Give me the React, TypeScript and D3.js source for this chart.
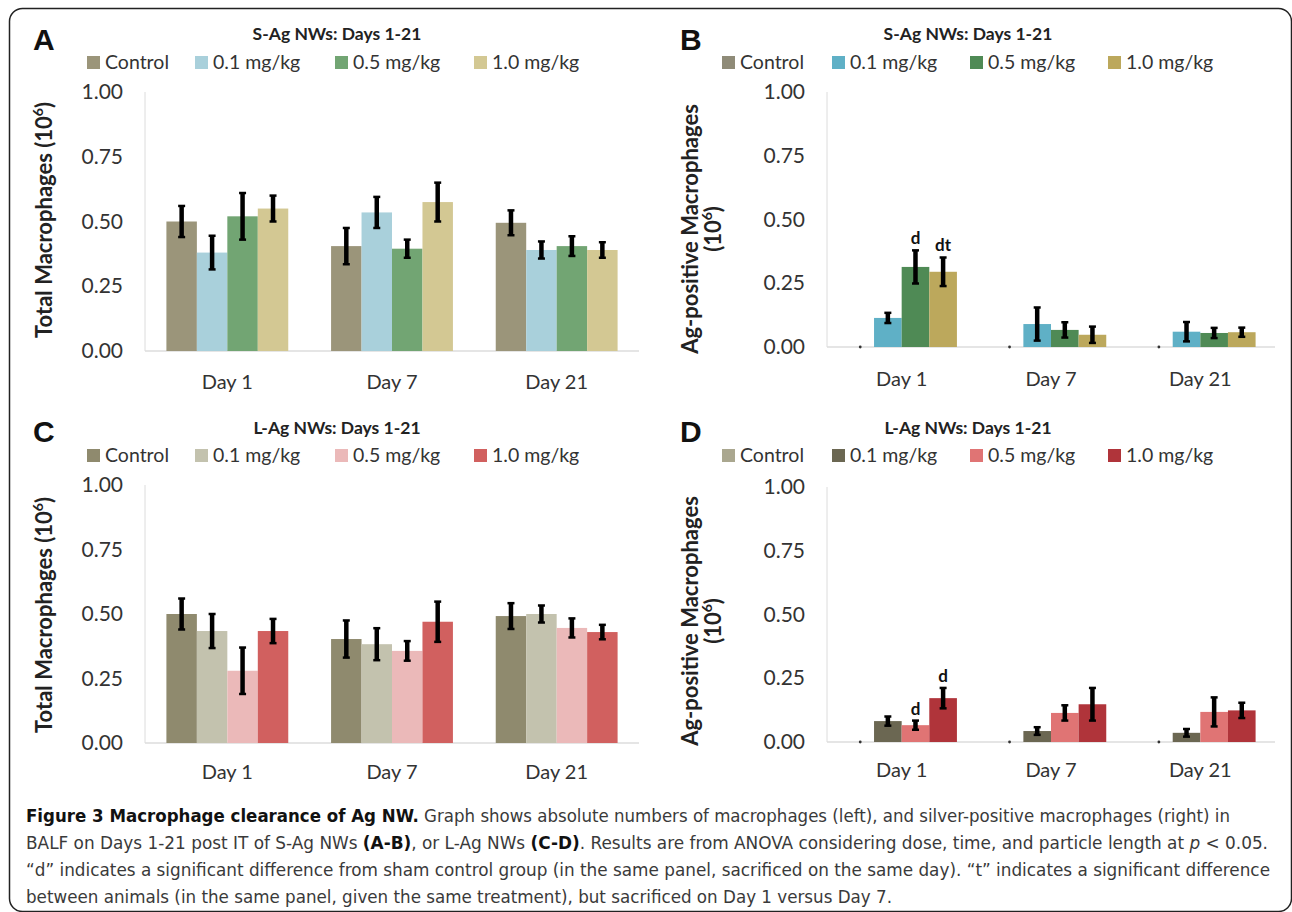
import React from "react";
import * as d3 from "d3";

// categories
const days = ["Day 1", "Day 7", "Day 21"];
const doses = ["Control", "0.1 mg/kg", "0.5 mg/kg", "1.0 mg/kg"];
const yTicks = [0, 0.25, 0.5, 0.75, 1.0];

// means (rows = dose, cols = day) and SE
const meanA = [
  [0.5, 0.405, 0.495],
  [0.38, 0.535, 0.39],
  [0.52, 0.395, 0.405],
  [0.55, 0.575, 0.39],
];
const errA = [
  [0.06, 0.07, 0.048],
  [0.065, 0.06, 0.033],
  [0.09, 0.035, 0.038],
  [0.05, 0.075, 0.03],
];
const meanB = [
  [0, 0, 0],
  [0.114, 0.09, 0.06],
  [0.314, 0.067, 0.055],
  [0.295, 0.048, 0.058],
];
const errB = [
  [0, 0, 0],
  [0.02, 0.065, 0.038],
  [0.065, 0.03, 0.02],
  [0.056, 0.032, 0.018],
];
const meanC = [
  [0.5, 0.403, 0.492],
  [0.434, 0.383, 0.5],
  [0.28, 0.357, 0.446],
  [0.434, 0.47, 0.43],
];
const errC = [
  [0.06, 0.072, 0.05],
  [0.066, 0.062, 0.033],
  [0.09, 0.038, 0.037],
  [0.047, 0.078, 0.028],
];
const meanD = [
  [0, 0, 0],
  [0.082, 0.043, 0.036],
  [0.066, 0.114, 0.118],
  [0.172, 0.148, 0.124],
];
const errD = [
  [0, 0, 0],
  [0.018, 0.015, 0.015],
  [0.018, 0.03, 0.057],
  [0.04, 0.064, 0.03],
];
const notesB = [
  { day: 0, dose: 2, label: "d" },
  { day: 0, dose: 3, label: "dt" },
];
const notesD = [
  { day: 0, dose: 2, label: "d" },
  { day: 0, dose: 3, label: "d" },
];

const colorsA = ["#9b957a", "#a9d0db", "#72a573", "#d3c893"];
const colorsB = ["#8f8b78", "#5fb0c6", "#4f8a55", "#bca85c"];
const colorsC = ["#8f8a6e", "#c3c2ae", "#ebb9b9", "#d1605f"];
const colorsD = ["#aaa78f", "#6b6752", "#e07474", "#b0343a"];

const captionLines = [
  [
    { t: "Figure 3 Macrophage clearance of Ag NW.", b: true },
    { t: " Graph shows absolute numbers of macrophages (left), and silver-positive macrophages (right) in" },
  ],
  [
    { t: "BALF on Days 1-21 post IT of S-Ag NWs " },
    { t: "(A-B)", b: true },
    { t: ", or L-Ag NWs " },
    { t: "(C-D)", b: true },
    { t: ". Results are from ANOVA considering dose, time, and particle length at " },
    { t: "p", i: true },
    { t: " < 0.05." },
  ],
  [
    { t: "\u201Cd\u201D indicates a significant difference from sham control group (in the same panel, sacrificed on the same day). \u201Ct\u201D indicates a significant difference" },
  ],
  [{ t: "between animals (in the same panel, given the same treatment), but sacrificed on Day 1 versus Day 7." }],
];

const FONT = "Lato, 'Open Sans', sans-serif";

const panels = [
  {
    letter: "A", title: "S-Ag NWs: Days 1-21", ylab: ["Total Macrophages (10", ")"], mean: meanA, err: errA, colors: colorsA, notes: [],
    left: 145, right: 639, top: 92, bottom: 351, letterX: 33, letterY: 50, titleX: 337, titleY: 40, legendY: 62,
    legendX: [87, 195, 335, 474], ylabX: 44, ylabY: 220, dayY: 389, twoLine: false, zeroDot: false,
  },
  {
    letter: "B", title: "S-Ag NWs: Days 1-21", ylab: ["Ag-positive Macrophages", "(10", ")"], mean: meanB, err: errB, colors: colorsB, notes: notesB,
    left: 827, right: 1275, top: 92, bottom: 347, letterX: 680, letterY: 50, titleX: 968, titleY: 40, legendY: 62,
    legendX: [722, 832, 970, 1108], ylabX: 690, ylabY: 229, dayY: 386, twoLine: true, zeroDot: true,
  },
  {
    letter: "C", title: "L-Ag NWs: Days 1-21", ylab: ["Total Macrophages (10", ")"], mean: meanC, err: errC, colors: colorsC, notes: [],
    left: 145, right: 639, top: 485, bottom: 743, letterX: 33, letterY: 442, titleX: 337, titleY: 434, legendY: 455,
    legendX: [87, 195, 335, 474], ylabX: 44, ylabY: 615, dayY: 779, twoLine: false, zeroDot: false,
  },
  {
    letter: "D", title: "L-Ag NWs: Days 1-21", ylab: ["Ag-positive Macrophages", "(10", ")"], mean: meanD, err: errD, colors: colorsD, notes: notesD,
    left: 827, right: 1275, top: 487, bottom: 742, letterX: 680, letterY: 442, titleX: 968, titleY: 434, legendY: 455,
    legendX: [722, 832, 970, 1108], ylabX: 690, ylabY: 621, dayY: 777, twoLine: true, zeroDot: true,
  },
];

function Panel({ p }: { p: any }) {
  const x0 = d3.scaleBand().domain(days).range([p.left, p.right]).paddingInner(0.26).paddingOuter(0.13);
  const x1 = d3.scaleBand().domain(doses).range([0, x0.bandwidth()]);
  const y = d3.scaleLinear().domain([0, 1]).range([p.bottom, p.top]);
  const fmt = d3.format(".2f");

  return (
    <g fontFamily={FONT}>
      <text x={p.letterX} y={p.letterY} fontSize={30} fontWeight="bold" fontFamily="'Liberation Sans', Arial, sans-serif" fill="#111">
        {p.letter}
      </text>
      <text x={p.titleX} y={p.titleY} fontSize={17.5} fontWeight="bold" textAnchor="middle" fill="#222">
        {p.title}
      </text>
      {doses.map((d, i) => (
        <g key={d}>
          <rect x={p.legendX[i]} y={p.legendY - 6} width={13} height={13} fill={p.colors[i]} />
          <text x={p.legendX[i] + 18} y={p.legendY + 7} fontSize={19.5} fill="#333">
            {d}
          </text>
        </g>
      ))}
      {/* axes */}
      <line x1={p.left} x2={p.left} y1={y(1)} y2={y(0)} stroke="#dcdcdc" strokeWidth={1} />
      <line x1={p.left} x2={p.right} y1={y(0)} y2={y(0)} stroke="#dcdcdc" strokeWidth={1.5} />
      {yTicks.map((t) => (
        <text key={t} x={p.left - 22} y={y(t) + 7} fontSize={21} textAnchor="end" fill="#333">
          {fmt(t)}
        </text>
      ))}
      {days.map((d) => (
        <text key={d} x={x0(d)! + x0.bandwidth() / 2} y={p.dayY} fontSize={20} textAnchor="middle" fill="#333">
          {d}
        </text>
      ))}
      {/* y label */}
      <g transform={`translate(${p.ylabX},${p.ylabY}) rotate(-90)`}>
        {p.twoLine ? (
          <>
            <text x={0} y={8} fontSize={22} fontWeight="bold" textAnchor="middle" fill="#222">
              {p.ylab[0]}
            </text>
            <text x={0} y={31} fontSize={22} fontWeight="bold" textAnchor="middle" fill="#222">
              {p.ylab[1]}
              <tspan fontSize={14} dy={-9}>6</tspan>
              <tspan dy={9}>{p.ylab[2]}</tspan>
            </text>
          </>
        ) : (
          <text x={0} y={8} fontSize={22} fontWeight="bold" textAnchor="middle" fill="#222">
            {p.ylab[0]}
            <tspan fontSize={14} dy={-9}>6</tspan>
            <tspan dy={9}>{p.ylab[1]}</tspan>
          </text>
        )}
      </g>
      {/* bars */}
      {doses.map((dose, i) =>
        days.map((day, j) => {
          const v = p.mean[i][j];
          const e = p.err[i][j];
          const bx = x0(day)! + x1(dose)!;
          const cx = bx + x1.bandwidth() / 2;
          if (v === 0 && p.zeroDot) {
            return <circle key={dose + day} cx={cx} cy={y(0)} r={1.4} fill="#333" />;
          }
          return (
            <g key={dose + day}>
              <rect x={bx} y={y(v)} width={x1.bandwidth()} height={y(0) - y(v)} fill={p.colors[i]} />
              <line x1={cx} x2={cx} y1={y(v + e)} y2={y(v - e)} stroke="#000" strokeWidth={4.5} />
              <line x1={cx - 3.5} x2={cx + 3.5} y1={y(v + e)} y2={y(v + e)} stroke="#000" strokeWidth={2.5} />
              <line x1={cx - 3.5} x2={cx + 3.5} y1={y(v - e)} y2={y(v - e)} stroke="#000" strokeWidth={2.5} />
            </g>
          );
        })
      )}
      {p.notes.map((n: any, k: number) => {
        const day = days[n.day];
        const dose = doses[n.dose];
        const cx = x0(day)! + x1(dose)! + x1.bandwidth() / 2;
        const top = p.mean[n.dose][n.day] + p.err[n.dose][n.day];
        return (
          <text key={k} x={cx} y={y(top) - 6} fontSize={17} fontWeight="bold" textAnchor="middle" fill="#111">
            {n.label}
          </text>
        );
      })}
    </g>
  );
}

const captionWidths = [1204, 1242, 1244, 866];

export default function App() {
  return (
    <svg width={1292} height={912} style={{ position: "absolute", left: 0, top: 0, background: "#fff" }}>
      <rect x={0} y={0} width={1292} height={912} fill="#fff" />
      <rect x={9.5} y={8.5} width={1282} height={903} rx={13} fill="none" stroke="#222" strokeWidth={1.5} />
      {panels.map((p) => (
        <Panel key={p.letter} p={p} />
      ))}
      <g fontFamily="'Liberation Sans Narrow', 'DejaVu Sans Condensed', Roboto, sans-serif" fontSize={18} fill="#3a3a3a">
        {captionLines.map((line, li) => (
          <text key={li} x={26} y={822 + li * 27} textLength={captionWidths[li]} lengthAdjust="spacingAndGlyphs">
            {line.map((s: any, si: number) => (
              <tspan key={si} fontWeight={s.b ? "bold" : "normal"} fontStyle={s.i ? "italic" : "normal"} fill={s.b ? "#111" : "#3a3a3a"}>
                {s.t}
              </tspan>
            ))}
          </text>
        ))}
      </g>
    </svg>
  );
}
